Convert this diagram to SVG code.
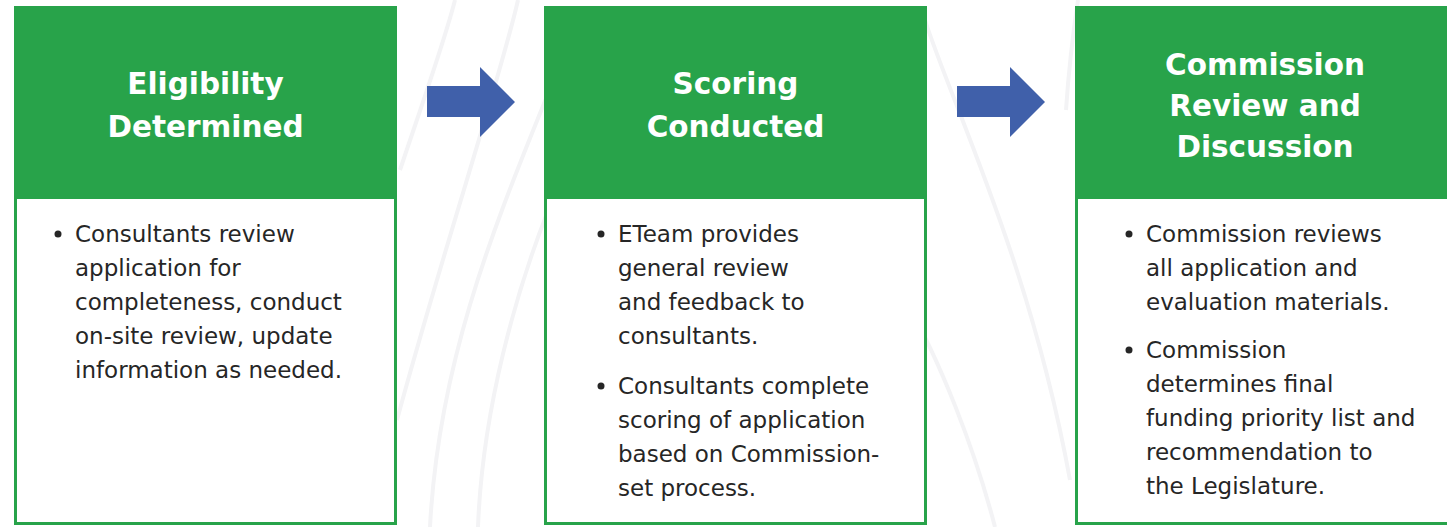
<svg xmlns="http://www.w3.org/2000/svg" width="1447" height="527" viewBox="0 0 1447 527">
<style>
.bg{fill:none;stroke:#f3f3f5;stroke-width:4}
.hdr{fill:#28a34a}
.frame{fill:#ffffff;stroke:#28a34a;stroke-width:3}
.title{font-family:"DejaVu Sans",sans-serif;font-weight:bold;font-size:29.5px;fill:#ffffff;text-anchor:middle}
.body{font-family:"DejaVu Sans",sans-serif;font-size:23px;fill:#262626}
.dot{fill:#262626}
.arrow{fill:#4060aa}
</style>
<rect width="1447" height="527" fill="#ffffff"/>
<g id="background">
<path class="bg" d="M455,0 C445,40 420,110 400,170"/>
<path class="bg" d="M518,0 C500,80 440,260 397,420"/>
<path class="bg" d="M565,50 C520,170 440,330 430,527"/>
<path class="bg" d="M565,170 C512,290 482,420 478,527"/>
<path class="bg" d="M925,20 C950,100 1030,260 1070,480"/>
<path class="bg" d="M905,300 C940,360 975,450 995,527"/>
<path class="bg" d="M1078,0 C1072,40 1068,80 1066,110"/>
</g>
<g id="connectors">
<polygon class="arrow" points="427,86 480,86 480,67 515,102 480,137 480,117 427,117"/>
<polygon class="arrow" points="957,86 1010,86 1010,67 1045,102 1010,137 1010,117 957,117"/>
</g>
<g id="node-eligibility">
<rect class="frame" x="15.5" y="7.5" width="380" height="516"/>
<rect class="hdr" x="14" y="6" width="383" height="193"/>
<text class="title" x="205.5" y="94">Eligibility</text>
<text class="title" x="205.5" y="137">Determined</text>
<circle class="dot" cx="58" cy="234" r="3.5"/>
<text class="body" x="75" y="242">Consultants review</text>
<text class="body" x="75" y="276">application for</text>
<text class="body" x="75" y="310">completeness, conduct</text>
<text class="body" x="75" y="344">on-site review, update</text>
<text class="body" x="75" y="378">information as needed.</text>
</g>
<g id="node-scoring">
<rect class="frame" x="545.5" y="7.5" width="380" height="516"/>
<rect class="hdr" x="544" y="6" width="383" height="193"/>
<text class="title" x="735.5" y="94">Scoring</text>
<text class="title" x="735.5" y="137">Conducted</text>
<circle class="dot" cx="601" cy="234" r="3.5"/>
<text class="body" x="618" y="242">ETeam provides</text>
<text class="body" x="618" y="276">general review</text>
<text class="body" x="618" y="310">and feedback to</text>
<text class="body" x="618" y="344">consultants.</text>
<circle class="dot" cx="601" cy="386" r="3.5"/>
<text class="body" x="618" y="394">Consultants complete</text>
<text class="body" x="618" y="428">scoring of application</text>
<text class="body" x="618" y="462">based on Commission-</text>
<text class="body" x="618" y="496">set process.</text>
</g>
<g id="node-commission">
<rect class="frame" x="1076.5" y="7.5" width="380" height="516"/>
<rect class="hdr" x="1075" y="6" width="383" height="193"/>
<text class="title" x="1265" y="75">Commission</text>
<text class="title" x="1265" y="116">Review and</text>
<text class="title" x="1265" y="157">Discussion</text>
<circle class="dot" cx="1129" cy="234" r="3.5"/>
<text class="body" x="1146" y="242">Commission reviews</text>
<text class="body" x="1146" y="276">all application and</text>
<text class="body" x="1146" y="310">evaluation materials.</text>
<circle class="dot" cx="1129" cy="350" r="3.5"/>
<text class="body" x="1146" y="358">Commission</text>
<text class="body" x="1146" y="392">determines final</text>
<text class="body" x="1146" y="426">funding priority list and</text>
<text class="body" x="1146" y="460">recommendation to</text>
<text class="body" x="1146" y="494">the Legislature.</text>
</g>
</svg>
